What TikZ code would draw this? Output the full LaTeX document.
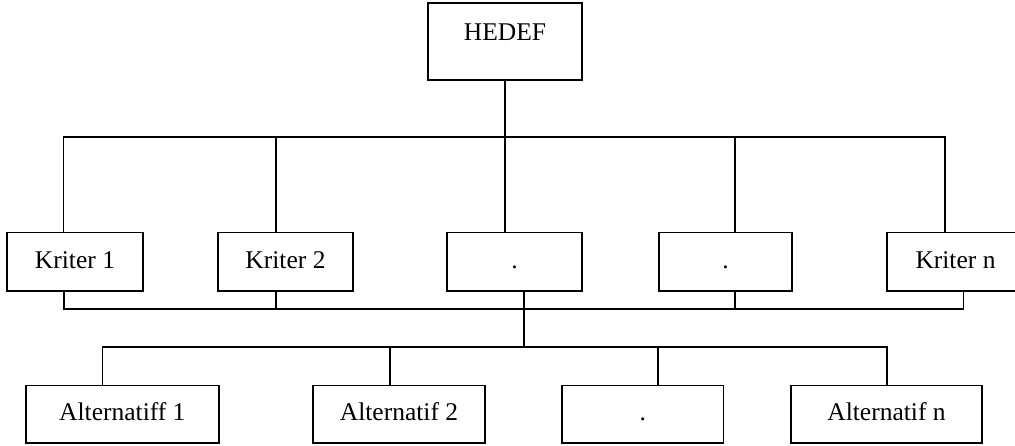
\documentclass[tikz,border=0pt]{standalone}
\usepackage{fontspec}
\setmainfont{Liberation Serif}
\begin{document}
\begin{tikzpicture}[x=1pt,y=-1pt]
\tikzset{
  box/.style={draw, line width=1.9pt, inner sep=0pt, text height=17.8pt, text depth=5.1pt,
    font=\fontsize{25.5}{30}\selectfont},
  kbox/.style={box, minimum height=58.5pt},
  abox/.style={box, minimum height=57.5pt},
  conn/.style={line width=1.9pt},
}
\useasboundingbox (0,0) rectangle (1015,446);
\fill[white] (0,0) rectangle (1015,446);
\clip (0,0) rectangle (1015,446);

% goal
\node[box, minimum width=154pt, minimum height=77pt, text depth=20pt] (h) at (505,41.5) {HEDEF};

% criteria
\node[kbox, minimum width=136pt] (k1) at (75,261.75) {Kriter 1};
\node[kbox, minimum width=135pt] (k2) at (285.5,261.75) {Kriter 2};
\node[kbox, minimum width=135pt] (k3) at (514.5,261.75) {.};
\node[kbox, minimum width=133pt] (k4) at (725.5,261.75) {.};
\node[kbox, minimum width=137pt] (k5) at (955.5,261.75) {Kriter n};

% alternatives
\node[abox, minimum width=193.3pt] (a1) at (122.35,414.25) {Alternatiff 1};
\node[abox, minimum width=172pt] (a2) at (399,414.25) {Alternatif 2};
\node[abox, minimum width=161.5pt] (a3) at (642.75,414.25) {.};
\node[abox, minimum width=191pt] (a4) at (886.5,414.25) {Alternatif n};

% bus coordinates
\coordinate (t1) at (63.5,137);
\coordinate (t2) at (276,137);
\coordinate (t3) at (505,137);
\coordinate (t4) at (735,137);
\coordinate (t5) at (945,137);
\coordinate (b1) at (64,309);
\coordinate (b2) at (276,309);
\coordinate (b3) at (524,309);
\coordinate (b4) at (735,309);
\coordinate (b5) at (963.5,309);
\coordinate (c1) at (102.5,347);
\coordinate (c2) at (390,347);
\coordinate (cm) at (524,347);
\coordinate (c3) at (658,347);
\coordinate (c4) at (887,347);

% goal to criteria
\draw[conn] (t1 |- k1.north) -- (t1) -- (t5) -- (t5 |- k5.north);
\draw[conn] (h.south) -- (t3) -- (t3 |- k3.north);
\draw[conn] (t2) -- (t2 |- k2.north);
\draw[conn] (t4) -- (t4 |- k4.north);

% criteria to alternatives
\draw[conn] (b1 |- k1.south) -- (b1) -- (b5) -- (b5 |- k5.south);
\draw[conn] (b2 |- k2.south) -- (b2);
\draw[conn] (b3 |- k3.south) -- (b3) -- (cm);
\draw[conn] (b4 |- k4.south) -- (b4);
\draw[conn] (c1 |- a1.north) -- (c1) -- (c4) -- (c4 |- a4.north);
\draw[conn] (c2) -- (c2 |- a2.north);
\draw[conn] (c3) -- (c3 |- a3.north);
\end{tikzpicture}
\end{document}
